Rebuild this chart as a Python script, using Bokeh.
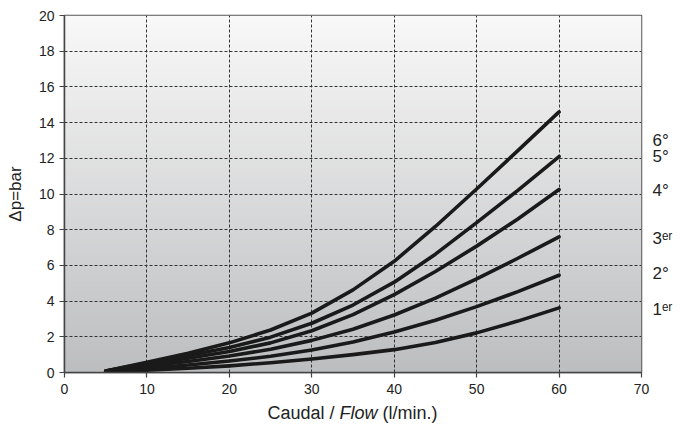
import numpy as np
from bokeh.plotting import figure
from bokeh.layouts import column
from bokeh.models import Range1d, FixedTicker, LinearAxis, Div, AllLabels
from bokeh.embed import file_html
from bokeh.resources import INLINE

# ---- data ----
flow = [5, 10, 15, 20, 25, 30, 35, 40, 45, 50, 55, 60]
dp_1 = [0.05, 0.13, 0.24, 0.37, 0.55, 0.76, 1.0, 1.28, 1.68, 2.22, 2.88, 3.62]
dp_2 = [0.06, 0.24, 0.42, 0.64, 0.91, 1.26, 1.71, 2.27, 2.93, 3.69, 4.53, 5.45]
dp_3 = [0.07, 0.37, 0.62, 0.92, 1.3, 1.8, 2.42, 3.22, 4.17, 5.25, 6.4, 7.6]
dp_4 = [0.08, 0.46, 0.8, 1.18, 1.66, 2.34, 3.24, 4.36, 5.66, 7.08, 8.6, 10.25]
dp_5 = [0.08, 0.53, 0.95, 1.4, 1.98, 2.76, 3.78, 5.06, 6.63, 8.4, 10.2, 12.1]
dp_6 = [0.08, 0.58, 1.08, 1.66, 2.38, 3.33, 4.63, 6.23, 8.18, 10.28, 12.43, 14.6]
series = [dp_1, dp_2, dp_3, dp_4, dp_5, dp_6]

curve_labels = ["1ᵉʳ", "2°", "3ᵉʳ", "4°", "5°", "6°"]
label_y = [3.55, 5.55, 7.5, 10.2, 12.1, 13.0]

x_ticks = [0, 10, 20, 30, 40, 50, 60, 70]
y_ticks = [0, 2, 4, 6, 8, 10, 12, 14, 16, 18, 20]

FONT = "Liberation Sans"
TXT = "#222222"

p = figure(frame_width=577, frame_height=357, output_backend="svg",
           toolbar_location=None,
           x_range=Range1d(0, 70), y_range=Range1d(0, 20),
           min_border_left=64, min_border_right=37, min_border_top=15,
           min_border_bottom=28)
p.background_fill_color = "white"
p.border_fill_color = "white"
p.outline_line_color = "#555555"
p.outline_line_width = 1.5

# gradient background (style only)
nrows = 200
grad = np.linspace(0, 1, nrows)  # bottom -> top
top = np.array([249, 249, 249])
bot = np.array([189, 190, 192])
img = np.zeros((nrows, 2), dtype=np.uint32)
view = img.view(dtype=np.uint8).reshape((nrows, 2, 4))
for i, t in enumerate(grad):
    c = bot + (top - bot) * t
    view[i, :, 0] = int(c[0])
    view[i, :, 1] = int(c[1])
    view[i, :, 2] = int(c[2])
    view[i, :, 3] = 255
p.image_rgba(image=[img], x=0, y=0, dw=70, dh=20, level="image")

# axes
for ax in (p.xaxis, p.yaxis):
    ax.axis_line_color = "#444444"
    ax.axis_line_width = 1.5
    ax.major_tick_line_color = "#444444"
    ax.major_tick_line_width = 1.2
    ax.major_tick_out = 5
    ax.major_tick_in = 0
    ax.minor_tick_line_color = None
    ax.major_label_text_font = FONT
    ax.major_label_text_font_size = "14px"
    ax.major_label_text_color = TXT
p.xaxis.ticker = FixedTicker(ticks=x_ticks)
p.yaxis.ticker = FixedTicker(ticks=y_ticks)
p.xaxis.major_label_standoff = 6
p.yaxis.major_label_standoff = 5

p.yaxis.axis_label = "Δp=bar"
p.yaxis.axis_label_text_font = FONT
p.yaxis.axis_label_text_font_size = "17px"
p.yaxis.axis_label_text_font_style = "normal"
p.yaxis.axis_label_text_color = TXT
p.yaxis.axis_label_standoff = 11

# right-side curve labels as an axis
rax = LinearAxis(ticker=FixedTicker(ticks=label_y),
                 major_label_overrides={yv: t for yv, t in zip(label_y, curve_labels)},
                 major_label_policy=AllLabels())
rax.axis_line_color = None
rax.major_tick_line_color = None
rax.minor_tick_line_color = None
rax.major_tick_out = 0
rax.major_tick_in = 0
rax.major_label_standoff = 11
rax.major_label_text_font = FONT
rax.major_label_text_font_size = "17px"
rax.major_label_text_color = TXT
p.add_layout(rax, "right")

# grid
for g in (p.xgrid, p.ygrid):
    g.grid_line_color = "#333333"
    g.grid_line_dash = "3 2"
    g.grid_line_width = 1
p.xgrid.ticker = FixedTicker(ticks=x_ticks[1:-1])
p.ygrid.ticker = FixedTicker(ticks=y_ticks[1:-1])

# curves
for s in series:
    p.line(flow, s, line_color="#1a1a1a", line_width=3.6, line_cap="round",
           line_join="round")

# x-axis label with an italic part
xlabel = Div(text='Caudal / <i>Flow</i> (l/min.)', width=577, height=24,
             margin=(1, 0, 0, 64),
             styles={"font-family": "'Liberation Sans', Arial, sans-serif",
                     "font-size": "18px", "color": TXT, "text-align": "center"})

layout = column(p, xlabel, spacing=0)
open("out.html", "w").write(file_html(layout, INLINE))
